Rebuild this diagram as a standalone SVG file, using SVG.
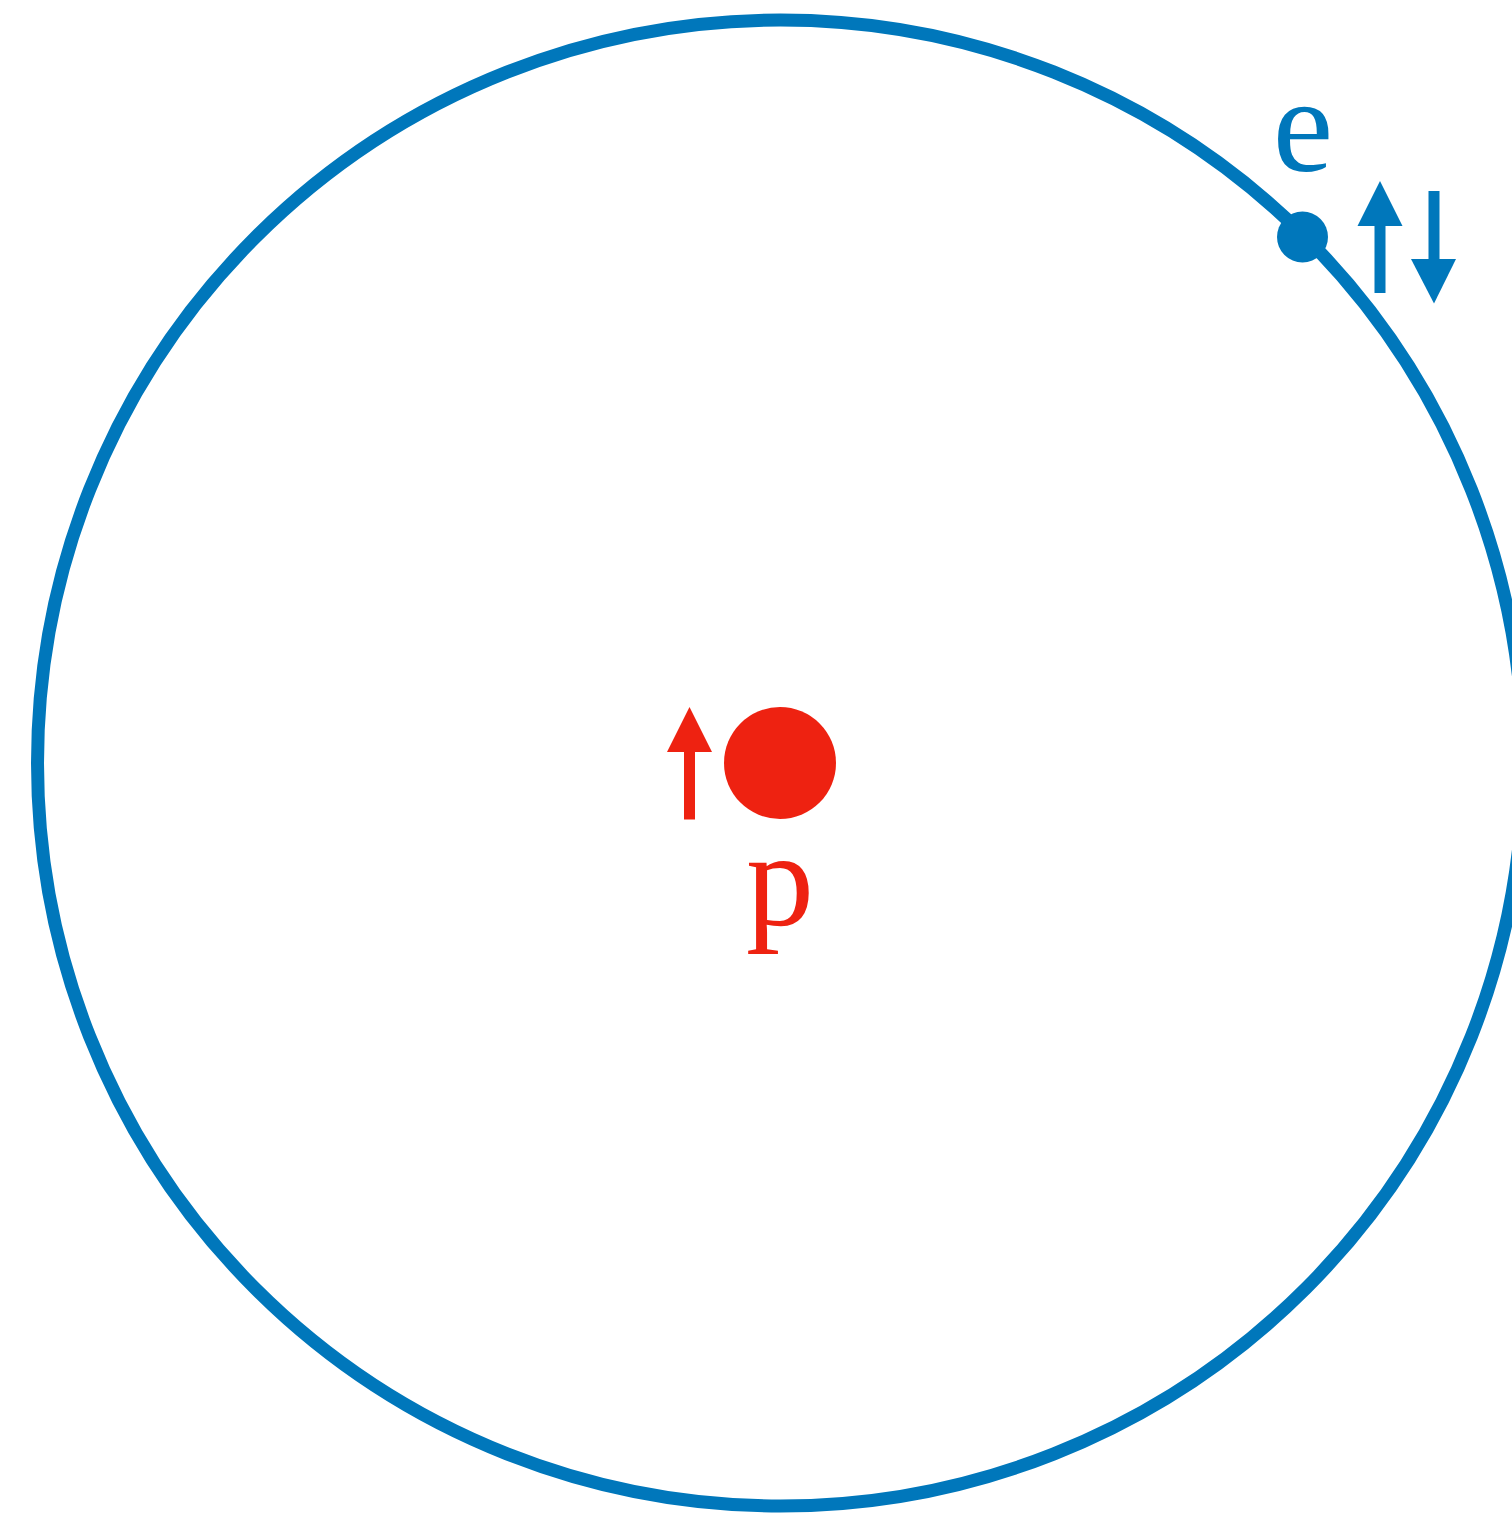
<svg xmlns="http://www.w3.org/2000/svg" width="1512" height="1514" viewBox="0 0 1512 1514">
<style>
.blue{fill:#0077BB}
.red{fill:#EE2211}
.lbl{font-size:136px;text-anchor:middle}
</style>
<rect width="1512" height="1514" fill="#ffffff"/>
<g id="orbit">
<circle cx="780.5" cy="763" r="743" fill="none" stroke="#0077BB" stroke-width="13"/>
</g>
<g id="electron">
<circle class="blue" cx="1302.5" cy="237" r="25.5"/>
<text class="lbl blue" font-family="'Liberation Serif', 'Times New Roman', serif" x="1303" y="171">e</text>
<rect class="blue" x="1374.5" y="224" width="11" height="69"/>
<polygon class="blue" points="1380,181 1402.5,226 1357.5,226"/>
<rect class="blue" x="1428.5" y="191" width="11" height="70"/>
<polygon class="blue" points="1434,303.5 1456,259 1411,259"/>
</g>
<g id="proton">
<circle class="red" cx="780" cy="763" r="56"/>
<text class="lbl red" font-family="'Liberation Serif', 'Times New Roman', serif" x="780" y="925">p</text>
<rect class="red" x="684" y="750" width="11" height="69.5"/>
<polygon class="red" points="689.5,707 712,752 667,752"/>
</g>
</svg>
